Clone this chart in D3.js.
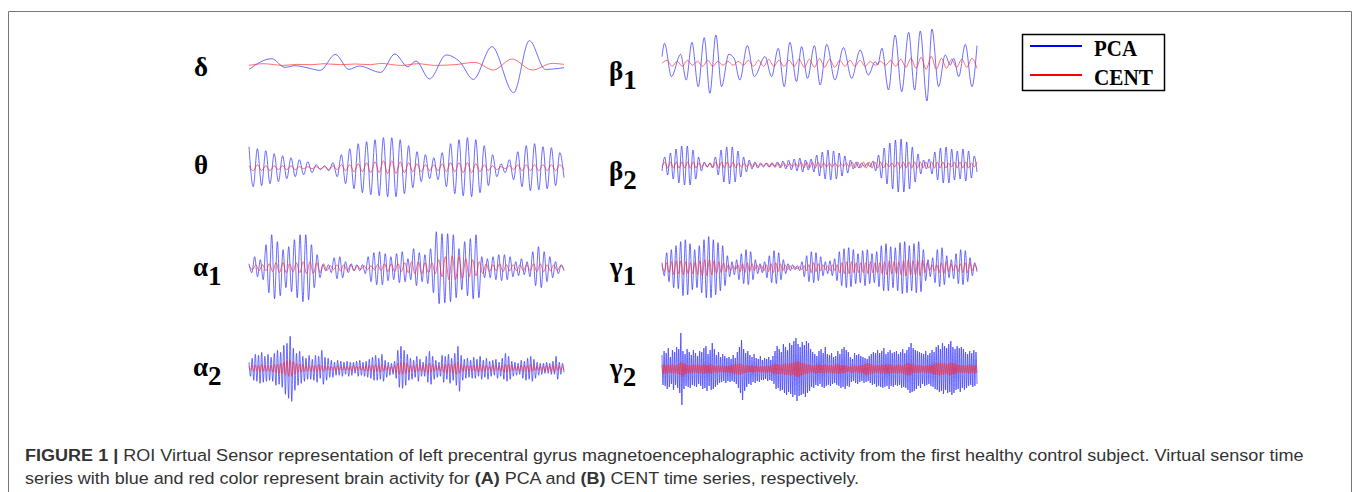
<!DOCTYPE html>
<html><head><meta charset="utf-8">
<script src="https://cdn.jsdelivr.net/npm/d3@7"></script>
<style>html,body{margin:0;padding:0;background:#fff;} svg{display:block;}</style>
</head><body><svg id="c" width="1359" height="492"></svg>
<script>
// ---------- DATA (extrema; amplitude units ≈ px, + = up) ----------
const bandLabels = ["δ","θ","α","α","β","β","γ","γ"];
const bandSubs   = ["","","1","2","1","2","1","2"];
const legendLabels = ["PCA","CENT"];

// δ (irregular, time in % of window)
const deltaPcaT = [0,7.2,11.4,14.6,18.4,22.6,27.4,31.7,35.0,41.8,46.3,50.4,53.0,57.3,62.6,66.9,71.2,77.1,84.0,89.0,94.1,100];
const deltaPca  = [-3.7,7,-1.7,0,-2,-4.7,11.3,-3.7,-0.3,-6.7,11.7,-1,4.7,-13.3,10.7,4,-13.7,19,-27,25,-3.7,-2];
const deltaCentT = [0,4.5,10.9,15.2,20,23.7,29,33.8,38.6,41.8,48.2,53.6,58.9,65.3,71.7,77.6,83.5,89.9,96.3,100];
const deltaCent  = [0.3,2,0.3,1.3,1,2,1,1.7,1,2.3,0.3,2,0.3,1,3.3,-4.3,6.7,-4.3,2.3,1.3];

// β1 (irregular)
const beta1PcaT = [0,0.8,3.0,5.9,7.7,9.5,11.5,13.4,15.2,17.1,18.9,21.2,22.9,24.7,27.1,29.3,32.7,34.8,36.9,38.8,40.6,42.7,44.3,46.2,48.4,50.2,52.3,54.9,57.6,60.2,62.9,65.5,67.7,68.5,69.8,71.9,74.0,76.1,78.3,80.2,82.0,84.1,85.7,87.8,89.9,91.5,92.6,94.2,96.3,98.4,100];
const beta1Pca  = [6.7,20,-13.3,9,-16.7,21,-23.3,25.7,-30,28.3,-23.3,9,5,-16.7,17.7,-13.3,6.7,-13.3,15,-23.3,21,-18.3,16.7,-15,17.7,-21.7,19,-16.7,15.7,-15,13.3,-11.7,1.7,-1.7,15,-26.7,28.3,-28.3,31,-26.7,32.3,-37.7,34.3,-23.3,8.3,-1.7,5,-13.3,19,-23.3,17.7];
const beta1Cent = [0,3,-3,2,-3,3,-2,2,-3,3,-3,2,-2,2,-2,2,-2,3,-3,3,-3,4,-3,3,-3,3,-3,4,-4,4,-4,5,-4,4,-4,3,-3,3,-3,3,-3,2,-2,2,-2,3,-3,4,-4,5,-5,6,-6,7,-6,5,-5,4,-4,4,-4,5,-5];

// θ (evenly spaced extrema)
const thetaPca = [21,-19,19,-18,17,-16,14,-14,12,-11,10,-9,8,-7,6,-5,3,-2,2,-3,5,-9,13,-16,19,-21,24,-25,26,-27,28,-28,30,-29,30,-29,28,-26,22,-20,16,-14,13,-11,10,-12,15,-19,24,-26,28,-28,30,-29,28,-25,22,-18,13,-9,4,-5,8,-12,16,-19,22,-23,24,-22,21,-21,20,-18,15,-10];
const thetaCent = [2,-3,3,-3,2,-3,2,-2,2,-2,2,-2,1,-1,1,-1,1,-1,1,-2,2,-2,3,-3,3,-4,4,-4,5,-5,6,-5,7,-6,7,-6,6,-5,5,-4,4,-4,3,-3,3,-3,4,-4,5,-4,5,-5,5,-5,4,-4,3,-3,2,-2,1,-1,2,-2,3,-3,3,-3,3,-3,3,-3,3,-3,3,-2];

// β2
const beta2Pca = [-6,8,-10,12,-14,16,-18,19,-20,19,-20,15,-14,8,-6,3,-2,2,-3,8,-10,15,-17,18,-19,18,-17,14,-12,8,-7,5,-4,3,-3,2,-2,2,-2,2,-2,3,-3,4,-4,5,-5,6,-6,7,-7,5,-5,6,-7,10,-11,13,-14,15,-15,14,-14,12,-11,9,-8,5,-4,3,-3,2,-2,2,-2,4,-6,10,-13,17,-19,22,-24,25,-27,26,-27,23,-24,18,-17,11,-9,5,-4,6,-9,13,-15,17,-18,18,-18,16,-15,14,-14,16,-16,14,-13,9,-7];
const beta2Cent = [-2,3,-3,3,-3,3,-3,3,-3,3,-3,3,-3,2,-2,2,-2,2,-2,3,-3,3,-3,3,-3,3,-3,2,-2,2,-2,2,-2,2,-2,1,-1,2,-2,2,-2,2,-2,2,-2,2,-2,2,-2,3,-3,3,-3,3,-3,3,-3,2,-2,2,-2,2,-2,1,-1,2,-2,3,-3,3,-3,3,-3,3,-3,3,-3,3,-3,2,-2,2,-2,3,-3,3,-3,3,-3,3,-3,3,-3,3,-3,3,-3,3,-3,3,-3,2,-2,3,-3,3,-3,3,-3,2,-2,3];

// α1
const alpha1Pca = [4,-5,11,-9,8,-12,23,-25,33,-31,26,-28,18,-20,21,-24,28,-30,33,-34,33,-32,23,-20,13,-10,3,-3,3,-5,10,-11,11,-10,6,-5,4,-3,3,-3,3,-6,11,-14,15,-17,16,-17,14,-13,11,-12,14,-15,16,-14,9,-12,19,-18,15,-14,13,-16,19,-25,36,-36,34,-35,34,-34,33,-30,19,-22,26,-28,29,-31,33,-30,11,-10,9,-10,11,-12,13,-13,13,-12,11,-9,6,-8,9,-7,6,-9,16,-18,21,-20,16,-14,11,-10,6,-6,3,-3];
const alpha1Cent = [2,-2,3,-3,3,-3,4,-4,5,-5,5,-5,4,-4,5,-5,6,-6,6,-6,5,-5,4,-3,2,-2,3,-3,3,-3,3,-3,2,-2,2,-2,2,-2,3,-3,4,-4,4,-4,4,-4,5,-5,6,-6,6,-6,5,-5,5,-6,8,-9,11,-12,12,-12,11,-11,9,-9,8,-8,6,-6,4,-4,3,-3,4,-4,3,-3,3,-3,3,-3,3,-3,4,-4,4,-4,3,-3,3,-3,2,-2];

// γ1
const gamma1Pca = [5,-8,15,-14,18,-20,22,-21,26,-28,28,-27,24,-22,18,-20,22,-25,28,-30,31,-30,28,-27,25,-23,22,-18,12,-9,6,-7,8,-12,14,-16,18,-17,16,-12,8,-6,4,-5,6,-10,12,-15,17,-16,15,-12,8,-6,4,-3,3,-2,2,-3,6,-9,12,-14,16,-15,15,-13,11,-8,6,-6,7,-8,9,-13,16,-18,19,-20,20,-19,18,-16,14,-15,17,-18,18,-16,14,-15,16,-19,22,-23,24,-23,21,-20,20,-23,25,-26,26,-25,22,-23,24,-25,26,-24,18,-13,8,-9,10,-15,18,-19,20,-17,12,-10,8,-11,14,-16,18,-17,17,-14,10,-8,5,-4];
const gamma1Cent = [3,-4,5,-5,6,-7,7,-6,7,-7,6,-6,5,-6,6,-7,7,-8,8,-8,8,-7,7,-6,6,-5,5,-4,3,-3,2,-2,3,-4,4,-5,5,-4,4,-3,3,-2,2,-3,3,-4,4,-5,5,-4,4,-3,3,-2,2,-1,1,-1,1,-2,2,-3,3,-5,5,-4,4,-3,3,-2,2,-3,3,-3,3,-5,5,-6,6,-6,6,-5,5,-5,5,-5,5,-6,6,-5,5,-5,5,-6,6,-7,7,-6,6,-6,6,-7,7,-8,8,-7,7,-7,7,-8,8,-5,5,-3,3,-3,3,-5,5,-6,6,-4,4,-3,3,-4,4,-5,5,-5,5,-3,3,-2];

// α2
const alpha2Pca = [6,-8,10,-12,14,-13,13,-15,16,-14,12,-13,14,-12,11,-13,15,-17,18,-16,16,-19,23,-26,25,-30,32,-33,20,-22,15,-17,17,-15,12,-13,10,-11,13,-11,9,-12,13,-14,12,-10,18,-16,11,-12,10,-9,8,-9,6,-7,8,-7,7,-8,6,-6,7,-8,6,-7,6,-5,7,-8,8,-7,6,-8,7,-9,9,-10,11,-12,13,-12,10,-11,14,-13,8,-9,6,-7,5,-6,7,-10,18,-19,22,-20,18,-17,14,-12,10,-11,8,-9,12,-13,9,-8,6,-8,12,-14,17,-16,12,-11,8,-9,6,-8,13,-14,12,-11,14,-15,10,-12,15,-17,22,-23,13,-12,9,-10,10,-9,8,-10,11,-10,9,-8,12,-11,8,-9,10,-11,7,-8,8,-7,9,-10,6,-8,10,-11,15,-13,12,-11,7,-8,6,-7,5,-6,8,-10,7,-12,10,-11,12,-13,9,-10,6,-7,5,-6,5,-5,6,-5,5,-6,7,-6,12,-11,6,-6,5,-4];
const alpha2Cent = [2,-2,3,-3,3,-3,3,-4,4,-3,3,-3,3,-3,3,-4,4,-4,4,-5,5,-5,6,-7,8,-8,8,-8,7,-6,5,-4,4,-4,4,-3,3,-3,3,-3,3,-3,3,-4,4,-3,3,-3,3,-2,2,-2,2,-2,2,-3,3,-2,2,-2,2,-2,2,-2,2,-3,3,-2,2,-2,2,-2,2,-3,3,-3,3,-3,3,-4,4,-3,3,-4,4,-3,3,-2,2,-2,2,-3,3,-4,5,-6,6,-6,6,-5,5,-4,3,-3,3,-4,4,-3,3,-3,3,-4,4,-5,5,-4,4,-3,3,-2,2,-3,4,-4,4,-5,5,-4,4,-5,5,-6,6,-5,4,-3,3,-3,3,-3,3,-3,3,-3,3,-4,4,-3,3,-3,3,-2,2,-3,3,-3,3,-2,2,-3,3,-4,4,-4,4,-3,3,-2,2,-2,2,-3,3,-3,3,-3,3,-4,4,-3,3,-2,2,-2,2,-2,2,-3,3,-2,2,-3,3,-4,4,-2,2,-2,2,-2];

// γ2
const gamma2Pca = [14,-16,18,-17,16,-20,21,-18,12,-15,19,-21,17,-16,22,-19,20,-24,36,-36,18,-20,15,-17,20,-18,17,-19,14,-16,19,-17,16,-18,13,-15,18,-17,17,-20,21,-19,23,-22,15,-17,19,-21,26,-20,20,-18,14,-16,17,-14,12,-13,15,-12,13,-14,11,-12,12,-13,10,-12,14,-13,11,-15,17,-19,22,-24,29,-31,20,-22,16,-18,18,-15,14,-16,12,-13,15,-14,11,-12,10,-13,13,-11,9,-11,11,-10,10,-12,12,-11,9,-12,13,-15,18,-20,23,-19,20,-22,17,-21,25,-24,22,-26,19,-23,26,-25,24,-28,28,-26,31,-32,25,-27,22,-26,27,-25,24,-28,28,-24,26,-22,20,-18,17,-19,15,-16,13,-17,18,-15,20,-18,16,-19,22,-17,15,-16,14,-17,16,-15,12,-14,13,-16,18,-17,15,-19,20,-18,22,-20,19,-17,17,-18,12,-13,10,-12,16,-14,14,-15,15,-13,13,-12,12,-14,11,-13,10,-12,13,-14,15,-16,17,-15,16,-18,19,-17,16,-18,18,-19,21,-18,15,-17,17,-20,19,-17,16,-18,17,-16,18,-17,15,-16,17,-19,20,-18,16,-19,19,-21,22,-24,26,-23,21,-22,19,-20,18,-17,17,-19,16,-15,15,-17,18,-16,14,-15,16,-17,19,-18,17,-20,22,-21,24,-23,20,-22,26,-25,23,-21,21,-24,25,-23,28,-26,22,-24,20,-21,23,-20,21,-23,22,-19,20,-21,17,-19,15,-17,18,-16,16,-18,19,-17,17,-15];
const gamma2Cent = [4,-5,5,-4,4,-5,5,-4,4,-4,5,-5,4,-4,4,-5,6,-6,7,-8,6,-6,5,-5,4,-4,4,-5,4,-4,5,-4,4,-4,5,-5,4,-4,4,-5,5,-4,4,-4,4,-4,5,-5,4,-4,4,-3,3,-4,4,-3,3,-3,4,-4,3,-3,3,-3,3,-4,4,-4,4,-5,5,-5,5,-6,6,-6,5,-5,4,-4,4,-4,4,-3,3,-3,4,-4,3,-3,4,-3,3,-3,3,-4,3,-3,3,-4,4,-4,3,-3,4,-4,4,-5,5,-5,5,-5,5,-5,4,-5,5,-6,6,-6,5,-6,6,-7,6,-6,7,-7,7,-8,8,-8,7,-7,6,-6,6,-5,5,-5,5,-4,4,-4,4,-4,4,-5,4,-4,5,-4,4,-4,4,-5,5,-4,4,-4,4,-4,4,-5,4,-4,5,-5,5,-5,4,-4,4,-4,4,-4,4,-3,3,-3,3,-4,4,-4,4,-3,3,-4,4,-4,4,-4,4,-5,5,-6,6,-6,6,-5,5,-5,4,-4,4,-4,4,-4,4,-5,5,-4,4,-5,5,-4,4,-5,5,-4,4,-4,4,-4,4,-5,5,-4,4,-4,4,-5,5,-6,6,-6,6,-6,5,-5,5,-4,4,-4,4,-4,4,-4,4,-3,3,-4,4,-4,4,-4,4,-4,4,-5,5,-6,6,-6,6,-7,7,-6,6,-6,6,-5,5,-6,6,-7,7,-6,6,-5,5,-5,5,-4,4,-4,4,-4,4,-4,4,-4,4,-5,5,-4,4,-4,4,-4,4,-4];

// ---------- DRAW ----------
const svg = d3.select("#c");

svg.append("path").attr("d","M8.5,492 V11.5 H1351.5 V492")
  .attr("fill","none").attr("stroke","#777").attr("stroke-width",1);

const colX = [[249,564],[662,977]];
const panels = [
  {col:0, cy:65.7,  li:0, pca:deltaPca, pcaT:deltaPcaT, cent:deltaCent, centT:deltaCentT, lx:194, ly:76},
  {col:0, cy:167.7, li:1, pca:thetaPca, cent:thetaCent, lx:194, ly:174},
  {col:0, cy:267.7, li:2, pca:alpha1Pca, cent:alpha1Cent, lx:193, ly:276},
  {col:0, cy:368.3, li:3, pca:alpha2Pca, cent:alpha2Cent, lx:193, ly:376},
  {col:1, cy:63.3,  li:4, pca:beta1Pca, pcaT:beta1PcaT, cent:beta1Cent, lx:609, ly:80},
  {col:1, cy:165,   li:5, pca:beta2Pca, cent:beta2Cent, lx:609, ly:180},
  {col:1, cy:267.7, li:6, pca:gamma1Pca, cent:gamma1Cent, lx:610, ly:276},
  {col:1, cy:369,   li:7, pca:gamma2Pca, cent:gamma2Cent, lx:610, ly:377}
];
const BLUE = "#2626ff", RED = "#ff2a2a";

function drawSeries(vals, ts, xr, cy, color, w, op){
  const x = ts ? d3.scaleLinear().domain([0,100]).range(xr)
               : d3.scaleLinear().domain([0, vals.length-1]).range(xr);
  const y = d3.scaleLinear().domain([-40,40]).range([cy+40, cy-40]);
  const line = d3.line().x((d,i)=>x(ts ? ts[i] : i)).y(d=>y(d)).curve(d3.curveMonotoneX);
  svg.append("path").datum(vals).attr("d", line)
    .attr("fill","none").attr("stroke",color).attr("stroke-width",w)
    .attr("stroke-opacity",op).attr("stroke-linejoin","round");
}

panels.forEach(p=>{
  const xr = colX[p.col];
  drawSeries(p.pca, p.pcaT, xr, p.cy, BLUE, 0.85, 0.8);
  drawSeries(p.cent, p.centT, xr, p.cy, RED, 0.85, 0.8);
  const t = svg.append("text").attr("x",p.lx).attr("y",p.ly)
    .attr("font-family","'Liberation Serif','Times New Roman',serif")
    .attr("font-weight","bold").attr("font-size",27).attr("fill","#000");
  t.append("tspan").text(bandLabels[p.li]);
  if (bandSubs[p.li]) t.append("tspan").attr("dy",9).text(bandSubs[p.li]);
});

// legend
const lg = svg.append("g");
lg.append("rect").attr("x",1022.5).attr("y",34.5).attr("width",142).attr("height",56)
  .attr("fill","#fff").attr("stroke","#000").attr("stroke-width",1.5);
[["#0000ff",46,56],["#ff0000",75,85]].forEach((d,i)=>{
  lg.append("line").attr("x1",1030).attr("x2",1082).attr("y1",d[1]).attr("y2",d[1])
    .attr("stroke",d[0]).attr("stroke-width",2);
  lg.append("text").attr("x",1094).attr("y",d[2])
    .attr("font-family","'Liberation Serif','Times New Roman',serif")
    .attr("font-weight","bold").attr("font-size",23).attr("fill","#000")
    .attr("textLength", i===0 ? 43 : 59).attr("lengthAdjust","spacingAndGlyphs")
    .text(legendLabels[i]);
});

// caption
const capFont = "'Liberation Sans Narrow','Arial Narrow','Liberation Sans',Arial,sans-serif";
function capLine(parts, x, y, targetW){
  const g = svg.append("g");
  const t = g.append("text").attr("x",x).attr("y",y)
    .attr("font-family",capFont).attr("font-size",17).attr("fill","#333");
  parts.forEach(pt=>{
    t.append("tspan").attr("font-weight", pt[1] ? "bold" : "normal").text(pt[0]);
  });
  const w = t.node().getComputedTextLength();
  const s = targetW / w;
  g.attr("transform", `translate(${x},0) scale(${s},1) translate(${-x},0)`);
}
capLine([["FIGURE 1 |",true],[" ROI Virtual Sensor representation of left precentral gyrus magnetoencephalographic activity from the first healthy control subject. Virtual sensor time",false]], 25, 461, 1280);
capLine([["series with blue and red color represent brain activity for ",false],["(A)",true],[" PCA and ",false],["(B)",true],[" CENT time series, respectively.",false]], 25, 484, 835);
</script>
</body></html>
